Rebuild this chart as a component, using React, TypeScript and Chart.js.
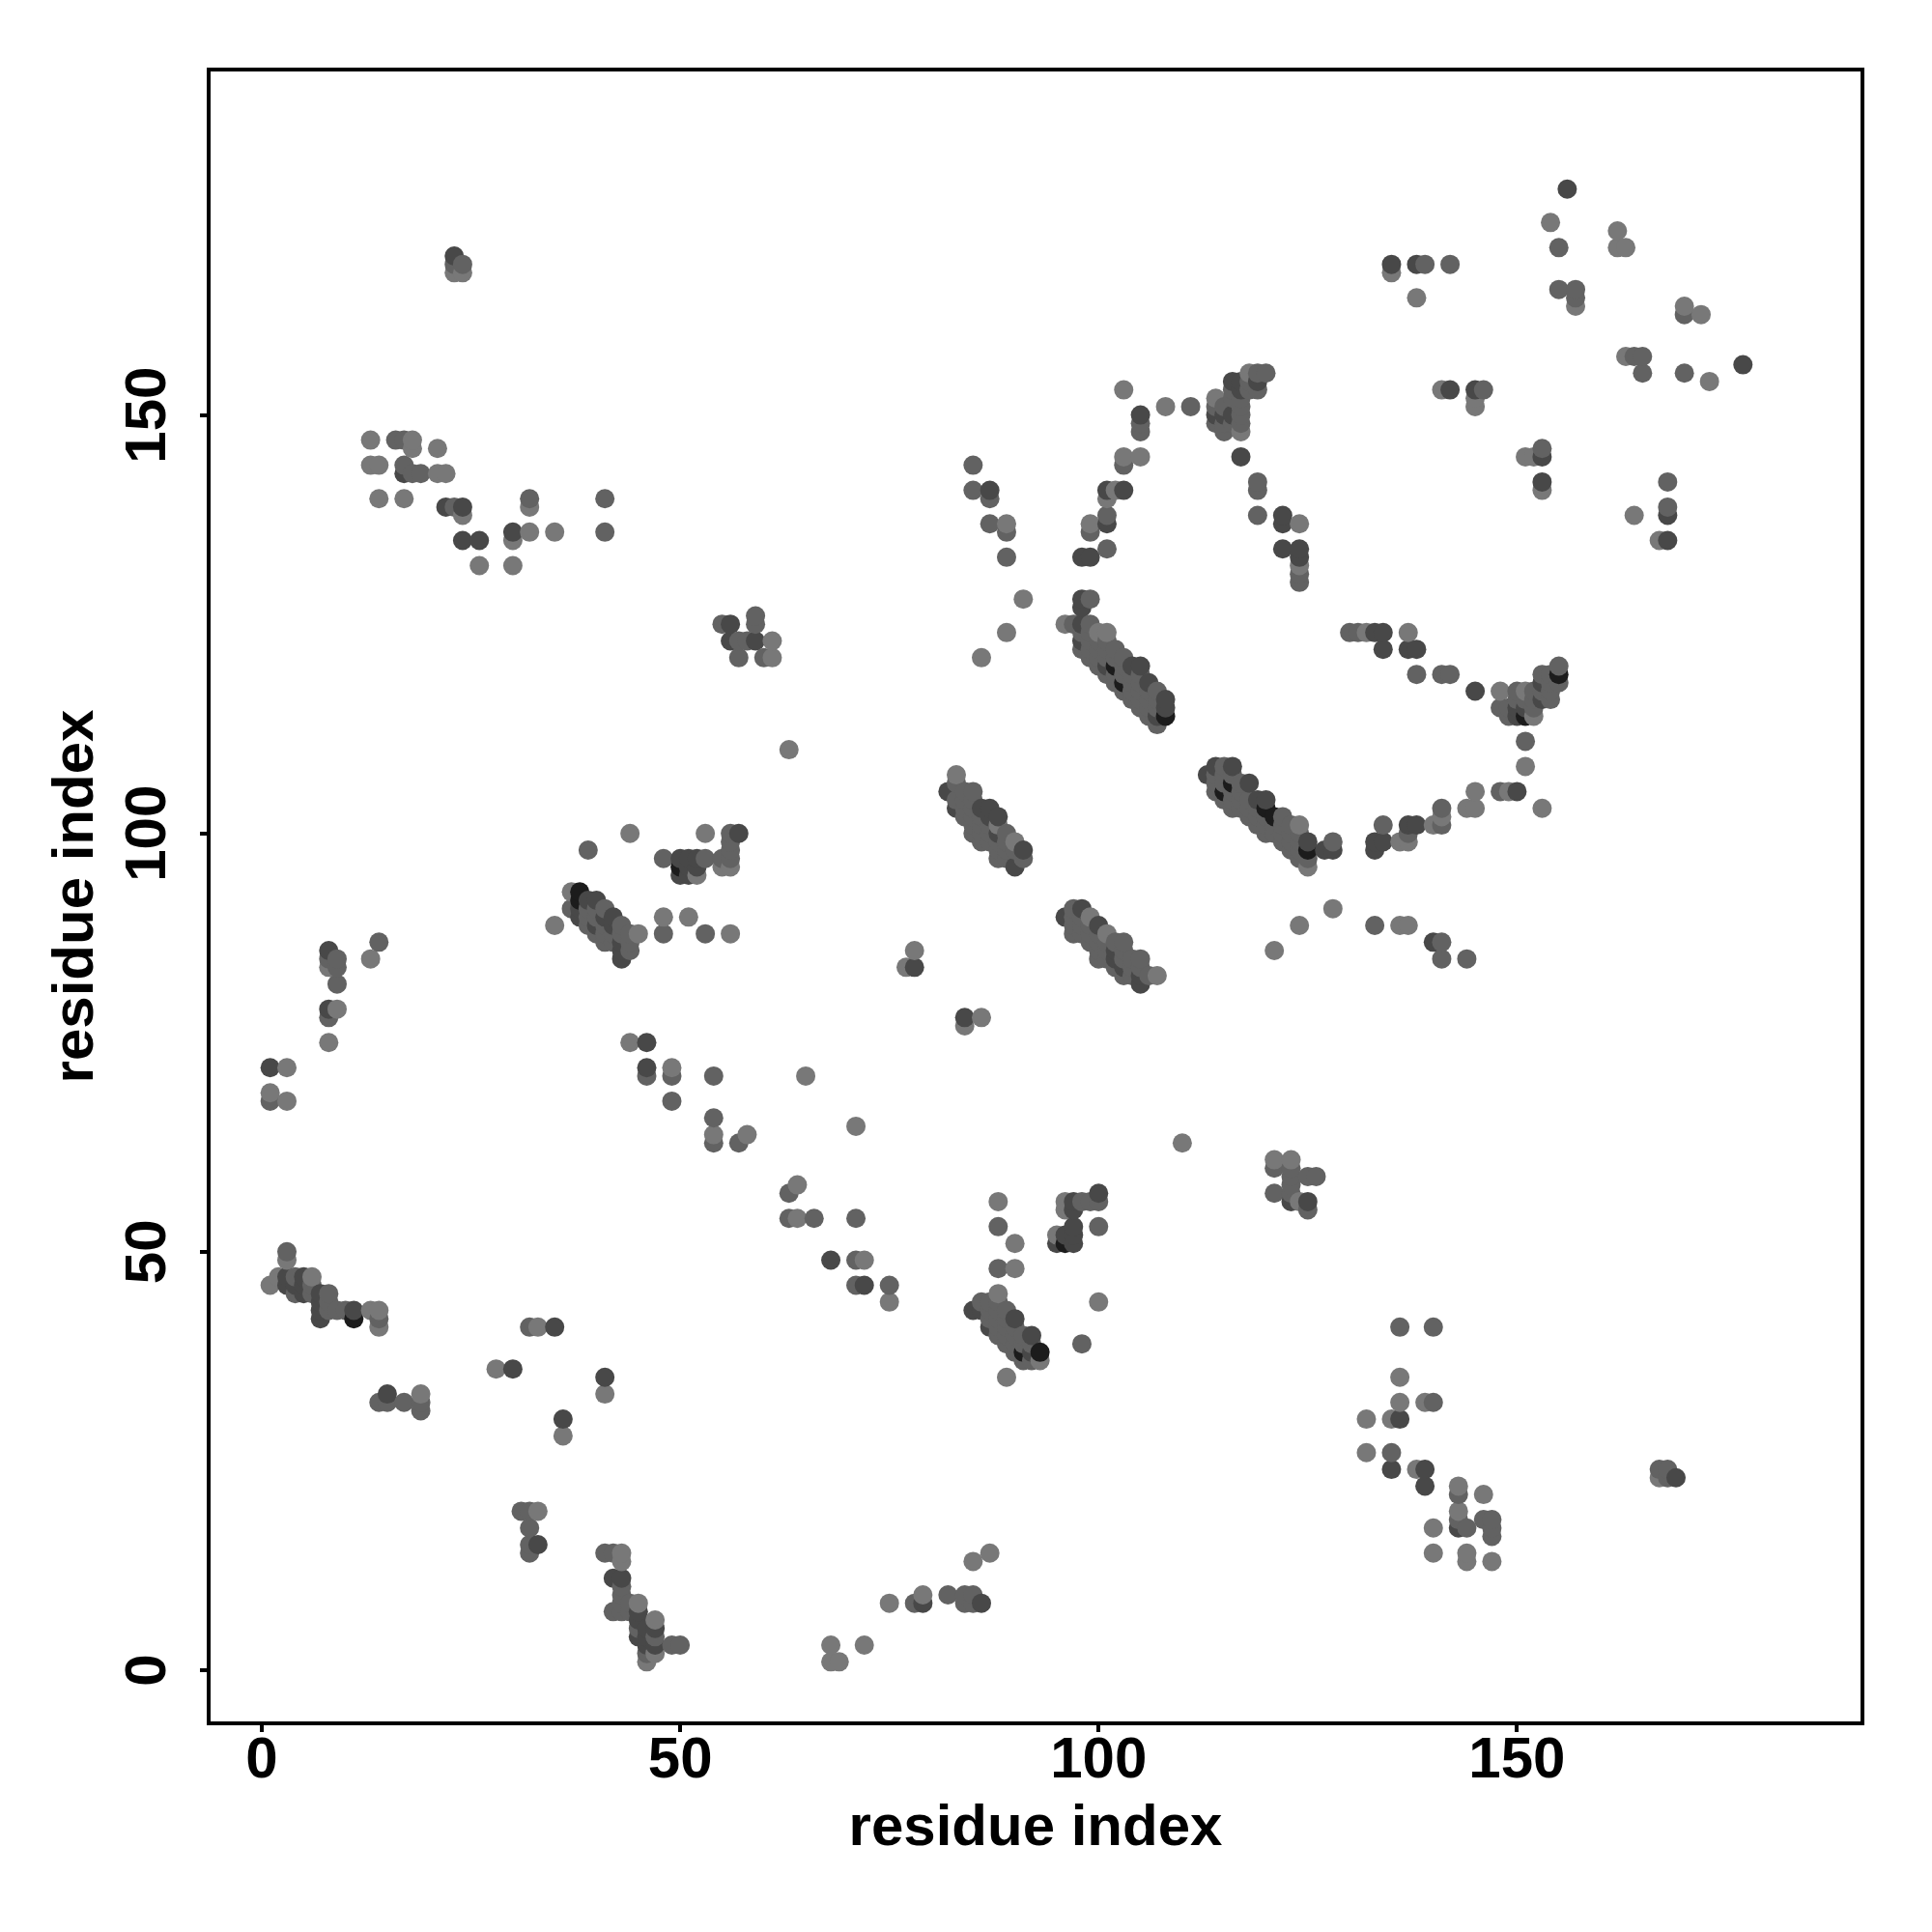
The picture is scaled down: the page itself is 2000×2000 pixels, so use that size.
import React, { useEffect, useRef } from "react";
import { Chart, registerables } from "chart.js";

Chart.register(...registerables);

const axisTitle = "residue index";
const tickValues = [0, 50, 100, 150];
const axisMin = -6.35;
const axisMax = 191.28;

const lightContacts = [
  [1,46],[2,47],[3,49],[6,47],[13,43],[14,43],[14,41],[13,85],[8,84],[9,79],[8,75],[3,72],[1,69],[3,68],
  [19,33],[28,36],[33,41],[36,28],[41,33],[33,19],[43,14],[43,13],[45,8],[47,6],[46,1],[47,2],
  [23,167],[24,167],[13,147],[18,147],[18,146],[21,146],[13,144],[14,144],[21,143],[22,143],[14,140],[17,140],
  [24,138],[30,135],[32,139],[32,136],[35,136],[26,132],[30,132],
  [35,89],[37,93],[45,88],[44,100],[53,100],[48,90],[51,90],[56,88],[52,95],[55,96],[56,96],[44,75],[49,72],
  [65,71],[54,64],[58,64],[71,65],[64,58],[64,54],[72,49],[75,44],[63,110],[61,123],[61,121],
  [68,3],[68,1],[69,1],[72,3],[75,8],[79,9],[85,13],[87,14],[77,84],[78,86],[84,77],[86,78],
  [89,124],[91,128],[86,121],[89,137],[96,125],[100,124],[101,124],[83,107],[88,101],[90,99],[99,90],[101,88],[107,83],
  [88,45],[93,37],[88,56],[90,51],[90,48],[100,44],[89,35],[96,56],[96,55],[95,52],
  [103,153],[108,151],[103,145],[105,145],[101,140],[102,141],[99,137],[114,152],[117,148],[118,155],[124,132],[124,137],
  [125,96],[124,101],[110,63],[121,61],[123,61],[124,56],[124,89],[128,91],[121,86],
  [132,30],[132,26],[135,30],[136,32],[136,35],[139,32],[138,24],[140,17],[140,14],[143,22],[146,21],[143,19],[144,14],[144,13],[147,13],
  [136,99],[137,99],[136,89],[137,89],[140,101],[141,102],[144,103],[145,103],[145,105],[149,105],[151,108],[153,103],
  [148,117],[151,117],[152,114],[132,124],[137,124],[141,153],[145,152],[145,151],[138,164],[157,163],[154,173],
  [162,172],[162,170],[163,170],[170,163],[172,162],[163,157],[173,154],[151,145],[152,145],[153,141],[164,138],[167,135],[135,167],[167,23],
];

const midContacts = [
  [3,50],[4,47],[6,46],[4,45],[6,45],[8,45],[8,44],[8,43],[9,43],[10,43],[14,42],[9,85],[8,85],[9,84],[9,82],[8,78],[14,87],[1,68],
  [14,32],[15,32],[17,32],[19,32],[19,31],[32,41],[31,19],[32,19],[32,17],[32,15],[32,14],[41,14],[42,14],[43,10],[43,9],[43,8],[44,8],[43,7],[44,7],[42,7],
  [45,5],[47,4],[46,2],[49,3],[50,3],[23,168],[24,168],[16,147],[17,147],[17,144],[18,143],[19,143],[23,139],[32,140],[41,140],[41,136],
  [37,91],[39,91],[39,90],[40,91],[40,90],[41,91],[39,89],[41,89],[43,89],[40,88],[41,88],[42,88],[43,88],[44,88],[41,87],[42,87],[44,87],[44,86],[39,98],[48,97],
  [48,88],[53,88],[53,97],[55,97],[56,97],[56,98],[56,99],[56,100],[46,71],[49,71],[49,68],[54,71],[54,66],[54,63],[57,63],[63,57],[63,54],[66,54],[71,54],[71,49],[71,46],[75,46],
  [55,125],[59,126],[59,125],[57,123],[58,123],[57,121],[60,121],
  [78,8],[82,9],[84,9],[84,8],[85,9],[85,8],[85,144],[85,141],[87,137],[89,136],[89,133],[87,140],
  [83,106],[84,105],[85,105],[83,104],[84,104],[85,104],[84,103],[85,103],[84,102],[85,102],[86,102],[85,101],[86,101],[87,101],[85,100],[86,100],[87,100],[89,100],[86,99],[87,99],[88,99],[89,99],[88,98],[89,98],[90,98],[88,97],[89,97],[91,97],
  [97,91],[97,90],[98,90],[97,89],[98,89],[99,89],[97,88],[98,88],[99,88],[100,88],[99,87],[100,87],[101,87],[102,87],[103,87],[100,86],[101,86],[103,86],[100,85],[101,85],[103,85],[104,85],[105,85],[102,84],[104,84],[105,84],[103,83],[104,83],[106,83],
  [86,44],[87,44],[88,44],[87,43],[88,43],[89,43],[87,42],[88,42],[89,42],[88,41],[89,41],[90,41],[88,40],[89,40],[90,40],[91,40],[89,39],[90,39],[91,39],[92,39],[90,38],[91,37],[92,37],[88,53],[88,48],[98,39],[100,53],[99,56],[98,56],[100,56],
  [97,125],[99,128],[99,125],[98,124],[99,124],[99,123],[100,123],[101,123],[100,122],[101,122],[102,122],[101,121],[102,121],[103,121],[102,120],[103,120],[103,119],[104,119],[105,119],[104,118],[105,118],[105,117],[106,117],[107,117],[106,116],[107,116],[107,115],[107,113],[98,122],[99,122],[99,121],[100,121],[100,120],[101,119],[102,119],[102,118],[103,117],[104,117],[104,116],[105,116],[105,115],[106,115],[106,114],
  [99,136],[101,134],[101,138],[103,144],[105,148],[105,149],[111,151],[114,151],[114,149],[115,151],[115,149],[115,148],[116,153],[116,152],[117,151],[117,150],[117,149],[117,152],[118,153],[118,154],[119,155],[119,153],[120,155],[116,149],
  [119,142],[119,141],[119,138],[124,131],[124,130],
  [115,108],[114,107],[115,107],[116,107],[114,106],[115,106],[117,106],[114,105],[116,105],[117,105],[115,104],[116,104],[117,104],[118,104],[116,103],[117,103],[118,103],[119,103],[118,102],[119,102],[120,102],[122,102],[119,101],[120,101],[121,101],[122,101],[123,101],[120,100],[121,100],[122,100],[123,100],[124,100],[122,99],[123,99],[124,99],[123,98],[124,98],[124,97],[125,97],[128,99],
  [123,60],[123,59],[123,58],[123,57],[125,59],[126,59],[121,57],[121,60],[125,55],[134,101],[137,100],[141,101],[141,103],[148,105],[133,89],[141,87],[141,85],[144,85],[151,111],
  [136,41],[140,41],[140,32],[135,26],[143,21],[143,18],[144,17],[146,18],[147,18],[147,17],[147,16],[168,24],[167,24],[168,23],
  [130,124],[131,124],[138,119],[141,119],[142,119],[148,115],[150,117],[152,117],[153,119],[154,119],[155,120],[155,118],[154,118],[154,117],[153,117],[154,116],[152,116],[151,116],[149,115],[152,115],[149,114],[150,116],
  [139,168],[142,168],[153,146],[155,170],[155,165],[157,165],[157,164],[170,162],[164,157],[165,157],[165,155],[170,155],[146,153],[168,142],[168,139],
];

const darkContacts = [
  [3,47],[3,46],[4,46],[5,47],[5,46],[5,45],[7,45],[7,44],[7,43],[7,42],[11,43],[8,86],[8,79],[1,72],[15,33],[30,36],[35,41],[36,30],[41,35],[33,15],[42,11],[43,11],[45,7],[45,6],[45,4],[46,5],[46,4],[46,3],[47,5],[47,3],
  [23,169],[17,143],[22,139],[24,139],[24,135],[26,135],[30,136],
  [38,91],[38,90],[39,92],[40,92],[42,90],[41,90],[40,89],[42,89],[43,87],[43,86],[43,85],[50,97],[51,97],[52,97],[50,95],[51,95],[51,96],[52,96],[57,100],[46,72],[46,75],
  [56,125],[56,123],[59,123],[78,84],[84,78],[68,49],[72,46],[79,8],[86,8],[87,141],
  [82,105],[87,103],[88,100],[91,98],[90,96],[86,103],[83,103],[87,102],[88,102],
  [96,90],[98,91],[100,89],[102,86],[102,85],[103,84],[105,83],[105,82],
  [85,43],[86,43],[87,41],[92,40],[90,42],[92,38],[97,56],[97,55],[100,57],[97,53],[97,52],[97,51],[95,51],[96,52],
  [98,128],[98,127],[98,125],[98,123],[104,120],[106,118],[108,116],[108,115],[107,114],[101,120],[105,120],
  [98,133],[99,133],[101,137],[101,141],[103,141],[105,150],[117,145],[114,150],[115,150],[116,154],[116,150],[117,154],[117,153],[119,154],
  [122,138],[122,137],[122,134],[124,134],[124,133],
  [113,107],[114,108],[116,108],[118,106],[120,104],[119,104],[125,99],[127,98],[128,98],
  [123,56],[125,56],[133,99],[133,98],[134,99],[137,101],[138,101],[150,105],[145,117],[140,87],
  [136,30],[135,24],[139,24],[139,22],[143,17],[169,23],
  [133,124],[134,124],[134,122],[137,122],[138,122],[153,118],[153,116],[150,115],[151,115],[150,114],
  [156,177],[135,168],[138,168],[142,153],[145,153],[153,145],[153,142],[168,138],[168,135],[177,156],
];

const deepContacts = [
  [38,93],[38,92],[50,96],[11,42],[93,38],[91,38],[96,51],[102,120],[103,118],[108,114],[121,102],[125,98],[116,106],[120,103],[115,105],[151,114],[155,119],
];

const shades: [number[][], string][] = [
  [lightContacts, "#787878"],
  [midContacts, "#626262"],
  [darkContacts, "#484848"],
  [deepContacts, "#1c1c1c"],
];

export default function App() {
  const ref = useRef<HTMLCanvasElement | null>(null);
  useEffect(() => {
    const seen = new Map<string, { x: number; y: number; color: string }>();
    for (const [list, color] of shades) {
      for (const [x, y] of list) seen.set(`${x},${y}`, { x, y, color });
    }
    const contacts = [...seen.values()].sort((a, b) => a.x - b.x || a.y - b.y);
    const fontFamily = "'Liberation Sans', Arial, sans-serif";
    const tickFont = { family: fontFamily, size: 60, weight: "bold" as const };
    const setTicks = (s: any) => {
      s.ticks = tickValues.map((value) => ({ value, label: String(value) }));
    };
    const frame = {
      id: "frame",
      afterDraw(c: any) {
        const { left, top, width, height } = c.chartArea;
        c.ctx.save();
        c.ctx.strokeStyle = "#000";
        c.ctx.lineWidth = 4;
        c.ctx.strokeRect(left, top, width, height);
        c.ctx.restore();
      },
    };
    const gridStyle = { drawOnChartArea: false, drawTicks: true, tickLength: 9, tickColor: "#000", tickWidth: 4, lineWidth: 4, color: "#000" };
    const chart = new Chart(ref.current as HTMLCanvasElement, {
      type: "scatter",
      data: {
        datasets: [
          {
            data: contacts.map((c) => ({ x: c.x, y: c.y })),
            pointBackgroundColor: contacts.map((c) => c.color),
            pointBorderWidth: 0,
            pointRadius: 10,
            clip: false,
          } as any,
        ],
      },
      options: {
        animation: false,
        responsive: false,
        devicePixelRatio: 1,
        layout: { padding: { top: 72, right: 72, left: 0, bottom: 0 } },
        plugins: { legend: { display: false }, tooltip: { enabled: false }, title: { display: false } },
        scales: {
          x: {
            type: "linear",
            min: axisMin,
            max: axisMax,
            afterBuildTicks: setTicks,
            afterFit(s: any) { s.height = 216; },
            grid: gridStyle,
            border: { display: false },
            ticks: { color: "#000", font: tickFont, padding: -6, maxRotation: 0, minRotation: 0, autoSkip: false },
            title: { display: true, text: axisTitle, color: "#000", font: tickFont, padding: { top: 0, bottom: 71 } },
          },
          y: {
            type: "linear",
            min: axisMin,
            max: axisMax,
            afterBuildTicks: setTicks,
            afterFit(s: any) { s.width = 216; },
            grid: gridStyle,
            border: { display: false },
            ticks: { color: "#000", font: tickFont, padding: 2, minRotation: 90, maxRotation: 90, autoSkip: false, crossAlign: "center" },
            title: { display: true, text: axisTitle, color: "#000", font: tickFont, padding: { top: 43, bottom: 0 } },
          },
        },
      } as any,
      plugins: [frame],
    });
    return () => chart.destroy();
  }, []);
  return (
    <canvas
      ref={ref}
      width={2000}
      height={2000}
      style={{ position: "absolute", left: 0, top: 0, width: 2000, height: 2000, background: "#fff" }}
    />
  );
}
